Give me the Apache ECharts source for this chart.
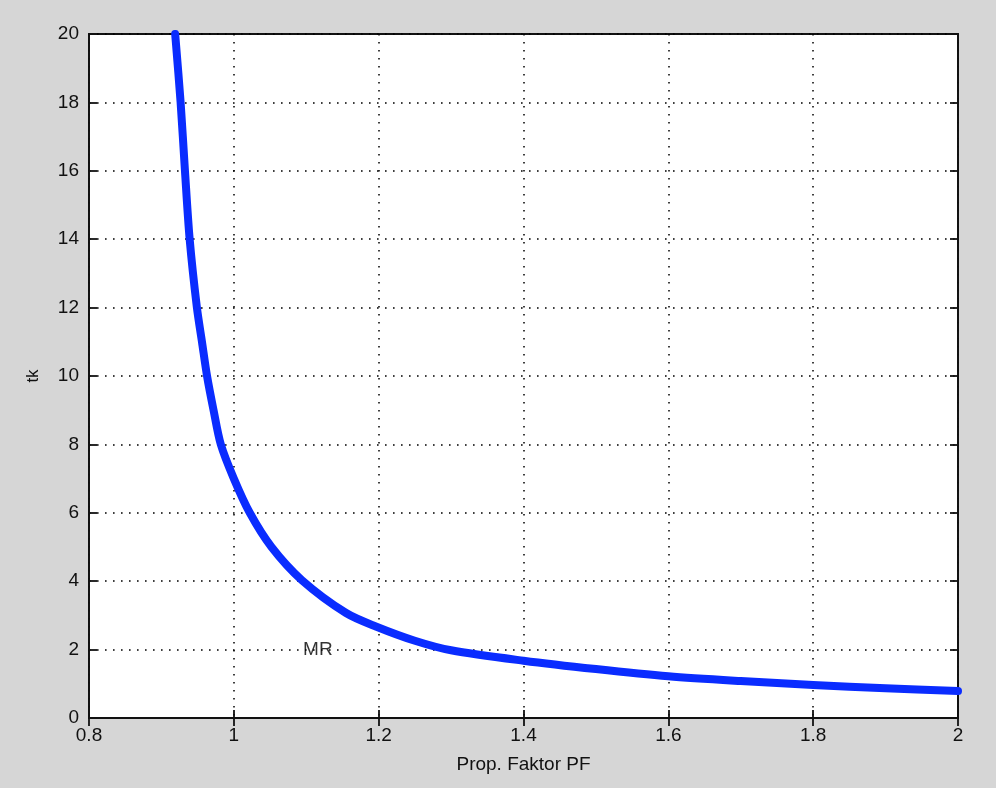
<!DOCTYPE html>
<html>
<head>
<meta charset="utf-8">
<script src="https://cdn.jsdelivr.net/npm/echarts@6/dist/echarts.min.js"></script>
<style>
  html, body { margin: 0; padding: 0; background: #d6d6d6; }
  #chart { width: 996px; height: 788px; }
</style>
</head>
<body>
<div id="chart"></div>
<script>
// Data
const pfValues = [0.919, 0.9265, 0.9325, 0.939, 0.949, 0.956, 0.963, 0.972, 0.982, 1.000, 1.022, 1.052, 1.094, 1.155, 1.197, 1.250, 1.300, 1.400, 1.500, 1.600, 1.700, 1.800, 1.900, 2.000];
const tkValues = [20.0, 18.0, 16.0, 14.0, 12.0, 11.0, 10.0, 9.0, 8.0, 7.0, 6.0, 5.0, 4.03, 3.07, 2.67, 2.26, 1.98, 1.675, 1.43, 1.22, 1.08, 0.965, 0.87, 0.79];
const xTicks = [0.8, 1, 1.2, 1.4, 1.6, 1.8, 2];
const yTicks = [0, 2, 4, 6, 8, 10, 12, 14, 16, 18, 20];
const annotation = { text: 'MR', x: 1.0956, y: 2 };

const font = 'Liberation Sans, Arial, Helvetica, sans-serif';
const chart = echarts.init(document.getElementById('chart'), null, { renderer: 'canvas' });

const dotted = { color: '#000', width: 1.5, type: [1.6, 6.4] };
const axisLineStyle = { lineStyle: { color: '#111', width: 1.8 } };
const tickStyle = { show: true, inside: true, length: 8, lineStyle: { color: '#111', width: 1.8 } };

const option = {
  backgroundColor: '#d6d6d6',
  animation: false,
  grid: { left: 89, right: 38, top: 34, bottom: 70, show: true, backgroundColor: '#fff', borderColor: '#111', borderWidth: 1.8 },
  xAxis: [
    {
      type: 'value', min: xTicks[0], max: xTicks[xTicks.length - 1], interval: 0.2, position: 'bottom',
      name: 'Prop. Faktor PF', nameLocation: 'middle', nameGap: 37,
      nameTextStyle: { fontFamily: font, fontSize: 19, color: '#111' },
      axisLine: axisLineStyle, axisTick: tickStyle,
      axisLabel: { fontFamily: font, fontSize: 19, color: '#111', margin: 8,
        formatter: v => { const t = xTicks.find(k => Math.abs(k - v) < 1e-6); return t === undefined ? '' : String(t); } },
      splitLine: { show: true, lineStyle: dotted }
    },
    {
      type: 'value', min: xTicks[0], max: xTicks[xTicks.length - 1], interval: 0.2, position: 'top',
      axisLine: axisLineStyle, axisTick: tickStyle, axisLabel: { show: false }, splitLine: { show: false }
    }
  ],
  yAxis: [
    {
      type: 'value', min: yTicks[0], max: yTicks[yTicks.length - 1], interval: 2, position: 'left',
      name: 'tk', nameLocation: 'middle', nameGap: 47,
      nameTextStyle: { fontFamily: font, fontSize: 17, color: '#111' },
      axisLine: axisLineStyle, axisTick: tickStyle,
      axisLabel: { fontFamily: font, fontSize: 19, color: '#111', margin: 10 },
      splitLine: { show: true, lineStyle: dotted }
    },
    {
      type: 'value', min: yTicks[0], max: yTicks[yTicks.length - 1], interval: 2, position: 'right',
      axisLine: axisLineStyle, axisTick: tickStyle, axisLabel: { show: false }, splitLine: { show: false }
    }
  ],
  series: [
    {
      type: 'line',
      xAxisIndex: 0, yAxisIndex: 0,
      data: pfValues.map((x, i) => [x, tkValues[i]]),
      showSymbol: false,
      smooth: 0.3,
      clip: true,
      lineStyle: { color: '#0a2cff', width: 8, cap: 'round', join: 'round' },
      z: 5
    },
    {
      type: 'scatter',
      xAxisIndex: 0, yAxisIndex: 0,
      data: [[annotation.x, annotation.y]],
      symbolSize: 0,
      label: { show: true, position: 'right', distance: 0, formatter: annotation.text,
        fontFamily: font, fontSize: 19, color: '#000' },
      z: 6
    }
  ]
};
chart.setOption(option);
</script>
</body>
</html>
